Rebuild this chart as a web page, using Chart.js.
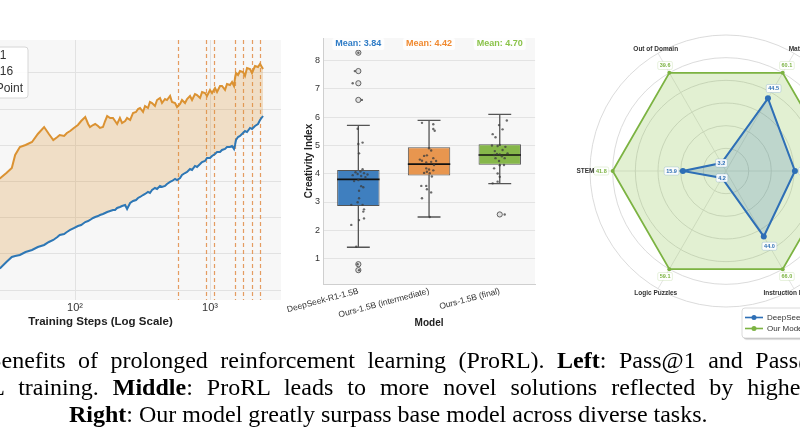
<!DOCTYPE html>
<html>
<head>
<meta charset="utf-8">
<script src="https://cdn.jsdelivr.net/npm/chart.js@4.4.1/dist/chart.umd.min.js"></script>
<style>
  html, body { margin: 0; padding: 0; background: #fff; width: 800px; height: 445px; overflow: hidden; position: relative; }
  canvas { position: absolute; }
  .cap { position: absolute; white-space: nowrap; font-family: "Liberation Serif", "Times New Roman", serif; font-size: 24px; line-height: 1; color: #000; }
</style>
</head>
<body>
<canvas id="steps" width="380" height="330" style="left:-80px;top:0"></canvas>
<canvas id="creat" width="270" height="330" style="left:270px;top:0"></canvas>
<canvas id="radar" width="332" height="330" style="left:560px;top:20px"></canvas>

<div class="cap" id="cap1" style="top:348px;word-spacing:6.5px"><span id="pre1"><b>Figure 1:</b> B</span>enefits of prolonged reinforcement learning (ProRL). <b>Left</b>: Pass@1 and Pass@16 scales with</div>
<div class="cap" id="cap2" style="top:375px;word-spacing:8px"><span id="pre2">ProRL </span>training. <b>Middle</b>: ProRL leads to more novel solutions reflected by higher</div>
<div class="cap" id="cap3" style="top:402px;left:69px"><b>Right</b>: Our model greatly surpass base model across diverse tasks.</div>

<script>
const FONT = '"Liberation Sans", Arial, sans-serif';
Chart.defaults.font.family = FONT;
Chart.defaults.color = '#333';

// ---------- left panel: Pass@k vs training steps ----------
const steps = [26, 28, 31, 34, 36, 39, 43, 48, 53, 59, 64,
  69, 74, 77, 83, 87, 92, 98, 105, 111, 119,
  125, 129, 136, 141, 148, 153, 161, 167, 173, 182,
  191, 198, 205, 215, 223, 235, 243, 256, 269, 283,
  293, 303, 319, 330, 347, 359, 372, 391, 405, 426,
  441, 464, 480, 506, 523, 551, 570, 600, 620, 653,
  676, 711, 736, 774, 801, 844, 873, 918, 950, 1000,
  1035, 1089, 1127, 1186, 1227, 1292, 1336, 1406, 1456, 1506,
  1532, 1558, 1613, 1668, 1756, 1817, 1880, 1979, 2047, 2154,
  2268, 2347, 2470];
const pass1 = [12.76, 13.04, 13.87, 14.56, 14.70, 14.84, 15.25, 15.53, 15.94, 16.22, 16.63,
  16.91, 17.32, 17.60, 17.74, 18.01, 18.29, 18.56, 18.84, 18.98, 19.39,
  19.53, 19.67, 19.95, 20.08, 20.22, 20.36, 20.50, 20.64, 20.77, 20.91,
  21.05, 21.05, 21.33, 21.47, 21.60, 21.74, 21.19, 22.02, 22.29, 22.43,
  22.71, 22.85, 23.12, 23.26, 23.54, 23.40, 23.81, 24.09, 23.95, 24.37,
  24.23, 24.37, 24.64, 24.92, 25.06, 25.33, 25.19, 25.47, 25.89, 26.16,
  26.30, 26.71, 26.58, 27.13, 26.99, 27.40, 27.68, 27.82, 28.23, 28.23,
  28.51, 28.79, 29.06, 29.06, 29.34, 29.48, 29.75, 29.75, 29.89, 29.48,
  30.03, 30.72, 31.13, 31.27, 31.69, 31.96, 31.82, 32.38, 32.24, 32.65,
  32.93, 33.48, 34.03];
const pass16 = [25.06, 25.47, 26.16, 26.85, 28.65, 29.75, 30.03, 30.44, 31.55, 32.51, 31.55,
  30.72, 31.13, 31.41, 31.27, 31.69, 31.96, 32.38, 32.79, 33.34, 33.90,
  32.93, 32.51, 32.79, 32.93, 32.65, 32.38, 32.51, 33.34, 34.03, 33.76,
  33.76, 33.34, 32.93, 33.76, 33.07, 33.34, 33.76, 33.48, 34.45, 34.59,
  35.00, 35.14, 34.59, 35.42, 35.14, 35.97, 35.83, 35.42, 36.24, 36.52,
  35.83, 36.38, 36.24, 36.80, 35.97, 35.83, 35.28, 35.69, 36.24, 35.83,
  36.38, 36.80, 36.24, 37.07, 36.93, 36.52, 37.35, 37.21, 36.80, 37.63,
  37.21, 37.90, 37.35, 38.18, 38.18, 37.63, 38.45, 38.32, 38.73, 38.18,
  39.28, 39.97, 39.70, 40.25, 40.11, 39.56, 40.66, 40.53, 39.97, 40.94,
  40.80, 41.22, 40.53];
const resetSteps = [577, 933, 1077, 1538, 1766, 2037, 2361];
const stepSeries = ['Pass@1', 'Pass@16', 'Reset Point'];
const stepColors = ['#2e77b5', '#db9232', 'rgba(226,140,70,0.85)'];

// ---------- middle panel: creativity index ----------
const models = ['DeepSeek-R1-1.5B', 'Ours-1.5B (intermediate)', 'Ours-1.5B (final)'];
const q1 = [2.86, 3.94, 4.32];
const median = [3.80, 4.34, 4.66];
const q3 = [4.13, 4.94, 5.04];
const whiskLo = [1.40, 2.47, 3.65];
const whiskHi = [5.71, 5.89, 6.10];
const means = [3.84, 4.42, 4.70];
const outliers = [[8.28, 7.63, 7.20, 6.61, 0.80, 0.59], [], [2.56]];
// strip points: [jitter offset in category units, value]
const strip = [
  [[-0.01, 5.59], [0.06, 5.10], [0, 5.05], [0.01, 4.72], [0.06, 4.16], [-0.04, 4.05], [0.03, 4.08], [0.08, 4.02],
   [-0.01, 3.99], [0.13, 3.97], [0.04, 3.92], [-0.08, 3.95], [0.10, 3.88], [0, 3.78], [-0.06, 3.74], [0.04, 3.56],
   [0.07, 3.52], [0.01, 3.13], [-0.10, 2.90], [0.06, 2.90], [-0.01, 2.99], [0.08, 2.74], [0.07, 2.66], [0.01, 2.36],
   [0.08, 2.42], [-0.10, 2.19], [-0.03, 1.42], [0.01, 3.40], [-0.08, 7.20], [-0.05, 7.63], [0.05, 6.61], [0, 8.28],
   [-0.01, 0.80], [0.01, 0.59]],
  [[-0.10, 5.80], [0.06, 5.75], [0.08, 5.52], [0.06, 5.58], [0, 4.90], [0.03, 4.82], [-0.07, 4.63], [-0.03, 4.65],
   [0.06, 4.55], [-0.10, 4.46], [-0.04, 4.40], [0.03, 4.42], [0.07, 4.31], [-0.04, 4.19], [0, 4.15], [0.06, 4.12],
   [-0.03, 4.07], [-0.07, 4.03], [0.01, 4.02], [-0.11, 3.57], [-0.04, 3.57], [-0.03, 3.45], [0.03, 3.34], [-0.10, 3.13],
   [0.01, 2.47], [-0.13, 4.50], [0.10, 4.45], [0.04, 3.90]],
  [[0.10, 5.88], [-0.01, 5.72], [0.04, 5.57], [-0.10, 5.40], [-0.06, 5.29], [0, 5.02], [-0.03, 4.98], [0.04, 4.84],
   [-0.04, 4.70], [0, 4.68], [-0.08, 4.66], [0.03, 4.62], [-0.06, 4.55], [0.07, 4.55], [-0.01, 4.45], [0.06, 4.31],
   [0, 4.30], [-0.08, 4.19], [-0.03, 4.01], [0, 3.89], [-0.03, 3.72], [-0.10, 3.66], [0.07, 2.56], [-0.11, 5.00],
   [0.11, 4.72], [0.08, 4.95], [-0.07, 4.80]]
];
const boxColors = ['#3f7fbf', '#e8964f', '#86b74a'];
const meanColors = ['#2f7cc6', '#f0892f', '#8bc34a'];

// ---------- right panel: radar ----------
const domains = ['Code', 'Instruction Following', 'Logic Puzzles', 'STEM', 'Out of Domain', 'Math'];
const baseScores = [28.4, 44.0, 4.2, 15.9, 3.2, 44.5];
const ourScores = [46.7, 66.0, 59.1, 41.8, 39.6, 60.1];
const radarNames = ['DeepSeek-R1-1.5B', 'Our Model'];
const radarColors = ['#2e6fb6', '#7cb342'];

// ---------- shared plugins ----------
const plotBg = {
  id: 'plotBg',
  beforeDraw(chart) {
    const a = chart.chartArea, ctx = chart.ctx;
    ctx.save();
    ctx.fillStyle = '#f7f7f7';
    ctx.fillRect(a.left, a.top, a.width, a.height);
    ctx.restore();
  }
};

function roundRect(ctx, x, y, w, h, r) {
  ctx.beginPath();
  ctx.moveTo(x + r, y);
  ctx.arcTo(x + w, y, x + w, y + h, r);
  ctx.arcTo(x + w, y + h, x, y + h, r);
  ctx.arcTo(x, y + h, x, y, r);
  ctx.arcTo(x, y, x + w, y, r);
  ctx.closePath();
}

// ---------- left chart ----------
const resetLines = {
  id: 'resetLines',
  beforeDatasetsDraw(chart) {
    const {ctx, chartArea: a, scales: {x}} = chart;
    ctx.save();
    ctx.strokeStyle = stepColors[2];
    ctx.lineWidth = 1.2;
    ctx.setLineDash([4, 3]);
    resetSteps.forEach(s => {
      const px = Math.round(x.getPixelForValue(s)) + 0.5;
      ctx.beginPath();
      ctx.moveTo(px, a.top);
      ctx.lineTo(px, a.bottom);
      ctx.stroke();
    });
    ctx.restore();
  }
};

const stepsLegend = {
  id: 'stepsLegend',
  afterDraw(chart) {
    const {ctx, chartArea: a} = chart;
    const x0 = a.left + 5, y0 = a.top + 7;
    ctx.save();
    roundRect(ctx, x0, y0, 103, 51, 3);
    ctx.fillStyle = 'rgba(255,255,255,0.9)';
    ctx.fill();
    ctx.strokeStyle = '#d6d6d6';
    ctx.lineWidth = 1;
    ctx.stroke();
    ctx.font = '12px ' + FONT;
    ctx.textBaseline = 'middle';
    stepSeries.forEach((name, i) => {
      const cy = y0 + 8.3 + i * 16.7;
      ctx.strokeStyle = stepColors[i];
      ctx.lineWidth = 2;
      ctx.setLineDash(i === 2 ? [4, 3] : []);
      ctx.beginPath();
      ctx.moveTo(x0 + 8, cy);
      ctx.lineTo(x0 + 30, cy);
      ctx.stroke();
      ctx.fillStyle = '#333';
      ctx.fillText(name, x0 + 36, cy);
    });
    ctx.restore();
  }
};

const sup = {1: '\u00b9', 2: '\u00b2', 3: '\u00b3'};

new Chart(document.getElementById('steps'), {
  type: 'line',
  data: {
    datasets: [
      {
        label: stepSeries[0],
        data: steps.map((s, i) => ({x: s, y: pass1[i]})),
        borderColor: stepColors[0],
        borderWidth: 2,
        pointRadius: 0,
        fill: false,
        tension: 0
      },
      {
        label: stepSeries[1],
        data: steps.map((s, i) => ({x: s, y: pass16[i]})),
        borderColor: stepColors[1],
        backgroundColor: 'rgba(221,149,51,0.25)',
        borderWidth: 2,
        pointRadius: 0,
        fill: {target: 0},
        tension: 0
      }
    ]
  },
  plugins: [plotBg, resetLines, stepsLegend],
  options: {
    responsive: false,
    animation: false,
    layout: {padding: {top: 40, right: 19, left: 0, bottom: 0}},
    plugins: {legend: {display: false}, tooltip: {enabled: false}},
    scales: {
      x: {
        type: 'logarithmic',
        min: 7.1,
        max: 3357,
        afterBuildTicks: axis => { axis.ticks = [10, 100, 1000].map(v => ({value: v})); },
        afterFit: axis => { axis.height = 30; },
        ticks: {
          callback: v => '10' + sup[Math.round(Math.log10(v))],
          font: {size: 11},
          color: '#333',
          padding: 1,
          maxRotation: 0,
          autoSkip: false
        },
        grid: {color: '#e2e2e2', drawTicks: false},
        border: {display: false},
        title: {
          display: true,
          text: 'Training Steps (Log Scale)',
          font: {size: 11.5, weight: 'bold'},
          color: '#222',
          padding: {top: 0, bottom: 1}
        }
      },
      y: {
        min: 8.62,
        max: 44.53,
        afterFit: axis => { axis.width = 0; },
        ticks: {display: false, stepSize: 5, includeBounds: false},
        grid: {color: '#e2e2e2', drawTicks: false},
        border: {display: false}
      }
    }
  }
});

// ---------- middle chart ----------
const boxParts = {
  id: 'boxParts',
  beforeDatasetsDraw(chart) {
    const {ctx, scales: {y}} = chart;
    const bars = chart.getDatasetMeta(0).data;
    ctx.save();
    ctx.strokeStyle = '#555';
    ctx.lineWidth = 1.3;
    bars.forEach((bar, i) => {
      const cap = bar.width * 0.27;
      const yl = y.getPixelForValue(whiskLo[i]);
      const yh = y.getPixelForValue(whiskHi[i]);
      ctx.beginPath();
      ctx.moveTo(bar.x, yl); ctx.lineTo(bar.x, yh);
      ctx.moveTo(bar.x - cap, yl); ctx.lineTo(bar.x + cap, yl);
      ctx.moveTo(bar.x - cap, yh); ctx.lineTo(bar.x + cap, yh);
      ctx.stroke();
    });
    ctx.restore();
  },
  afterDatasetDraw(chart, args) {
    if (args.index !== 0) return;
    const {ctx, scales: {y}} = chart;
    ctx.save();
    ctx.strokeStyle = '#111';
    ctx.lineWidth = 1.6;
    chart.getDatasetMeta(0).data.forEach((bar, i) => {
      const ym = y.getPixelForValue(median[i]);
      ctx.beginPath();
      ctx.moveTo(bar.x - bar.width / 2, ym);
      ctx.lineTo(bar.x + bar.width / 2, ym);
      ctx.stroke();
    });
    ctx.restore();
  }
};

const meanLabels = {
  id: 'meanLabels',
  afterDraw(chart) {
    const {ctx, chartArea: a, scales: {x}} = chart;
    ctx.save();
    ctx.font = 'bold 9px ' + FONT;
    ctx.textAlign = 'center';
    ctx.textBaseline = 'middle';
    means.forEach((m, i) => {
      const cx = x.getPixelForValue(i);
      const cy = a.top + 6;
      const t = 'Mean: ' + m.toFixed(2);
      const w = ctx.measureText(t).width + 6;
      roundRect(ctx, cx - w / 2, cy - 6, w, 12, 2);
      ctx.fillStyle = 'rgba(255,255,255,0.85)';
      ctx.fill();
      ctx.fillStyle = meanColors[i];
      ctx.fillText(t, cx, cy);
    });
    ctx.restore();
  }
};

const outlierPts = [];
outliers.forEach((list, i) => list.forEach(v => outlierPts.push({x: i, y: v})));
const stripPts = [];
strip.forEach((list, i) => list.forEach(([dx, v]) => stripPts.push({x: i + dx, y: v})));

new Chart(document.getElementById('creat'), {
  type: 'bar',
  data: {
    labels: models,
    datasets: [
      {
        label: 'IQR',
        data: models.map((m, i) => [q1[i], q3[i]]),
        backgroundColor: boxColors,
        borderColor: '#555',
        borderWidth: 1,
        borderSkipped: false,
        categoryPercentage: 1,
        barPercentage: 0.6,
        grouped: false,
        order: 3
      },
      {
        type: 'scatter',
        label: 'outliers',
        xAxisID: 'xj',
        data: outlierPts,
        pointRadius: 2.6,
        pointBackgroundColor: 'rgba(215,215,215,0.7)',
        pointBorderColor: '#555',
        pointBorderWidth: 0.9,
        order: 2
      },
      {
        type: 'scatter',
        label: 'samples',
        xAxisID: 'xj',
        data: stripPts,
        pointRadius: 1.2,
        pointBackgroundColor: 'rgba(60,60,60,0.75)',
        pointBorderWidth: 0,
        order: 1
      }
    ]
  },
  plugins: [plotBg, boxParts, meanLabels],
  options: {
    responsive: false,
    animation: false,
    layout: {padding: {top: 38, right: 4, left: 33, bottom: 1}},
    plugins: {legend: {display: false}, tooltip: {enabled: false}},
    scales: {
      x: {
        type: 'category',
        afterFit: axis => { axis.height = 45; },
        ticks: {font: {size: 8.5}, color: '#333', minRotation: 15, maxRotation: 15, padding: 2, autoSkip: false},
        grid: {display: false, drawTicks: false},
        border: {display: true, color: '#cfcfcf'},
        title: {display: true, text: 'Model', font: {size: 10, weight: 'bold'}, color: '#222', padding: {top: 0, bottom: 0}}
      },
      xj: {type: 'linear', display: false, offset: false, min: -0.5, max: 2.5},
      y: {
        min: 0.1,
        max: 8.8,
        afterFit: axis => { axis.width = 20; },
        ticks: {stepSize: 1, includeBounds: false, font: {size: 9}, color: '#333', padding: 3},
        grid: {color: '#e3e3e3', drawTicks: false},
        border: {display: true, color: '#cfcfcf'},
        title: {display: true, text: 'Creativity Index', font: {size: 10, weight: 'bold'}, color: '#222', padding: {top: 0, bottom: 0}}
      }
    }
  }
});

// ---------- right chart ----------
function drawTag(ctx, text, x, y, color, edge) {
  ctx.font = 'bold 5.5px ' + FONT;
  const w = ctx.measureText(text).width + 4;
  roundRect(ctx, x - w / 2, y - 4, w, 8, 1.5);
  ctx.fillStyle = 'rgba(255,255,255,0.9)';
  ctx.fill();
  ctx.strokeStyle = edge;
  ctx.lineWidth = 0.5;
  ctx.stroke();
  ctx.fillStyle = color;
  ctx.fillText(text, x, y + 0.3);
}

const radarLabels = {
  id: 'radarLabels',
  afterDatasetsDraw(chart) {
    const {ctx} = chart;
    const r = chart.scales.r;
    const base = chart.data.datasets[0].data;
    ctx.save();
    ctx.textAlign = 'center';
    ctx.textBaseline = 'middle';
    domains.forEach((d, i) => {
      const p = r.getPointPositionForValue(i, 1.24);
      ctx.font = 'bold 6.5px ' + FONT;
      ctx.fillStyle = '#333';
      ctx.fillText(d, p.x, p.y);

      const horiz = Math.abs(Math.cos(p.angle));
      const g = r.getPointPositionForValue(i, 1.05 + 0.05 * horiz);
      drawTag(ctx, ourScores[i].toFixed(1), g.x, g.y, radarColors[1], 'rgba(124,179,66,0.35)');

      const bv = base[i];
      const b = r.getPointPositionForValue(i, bv < 0.2 ? bv : bv + 0.1);
      drawTag(ctx, baseScores[i].toFixed(1), b.x, b.y, radarColors[0], 'rgba(46,111,182,0.4)');
    });
    ctx.restore();
  }
};

const radarLegend = {
  id: 'radarLegend',
  afterDraw(chart) {
    const {ctx} = chart;
    const x0 = 182, y0 = 288;
    ctx.save();
    ctx.shadowColor = 'rgba(0,0,0,0.25)';
    ctx.shadowOffsetX = 1.5;
    ctx.shadowOffsetY = 1.5;
    ctx.shadowBlur = 1;
    roundRect(ctx, x0, y0, 90, 30, 3);
    ctx.fillStyle = '#fff';
    ctx.fill();
    ctx.shadowColor = 'transparent';
    ctx.strokeStyle = '#d0d0d0';
    ctx.lineWidth = 0.8;
    ctx.stroke();
    ctx.font = '8px ' + FONT;
    ctx.textBaseline = 'middle';
    radarNames.forEach((n, i) => {
      const cy = y0 + 9.5 + i * 11;
      ctx.strokeStyle = radarColors[i];
      ctx.lineWidth = 1.6;
      ctx.beginPath();
      ctx.moveTo(x0 + 3, cy);
      ctx.lineTo(x0 + 21, cy);
      ctx.stroke();
      ctx.fillStyle = radarColors[i];
      ctx.beginPath();
      ctx.arc(x0 + 12, cy, 2.5, 0, Math.PI * 2);
      ctx.fill();
      ctx.fillStyle = '#333';
      ctx.fillText(n, x0 + 25, cy);
    });
    ctx.restore();
  }
};

new Chart(document.getElementById('radar'), {
  type: 'radar',
  data: {
    labels: domains,
    datasets: [
      {
        label: radarNames[0],
        data: baseScores.map((v, i) => v / ourScores[i]),
        borderColor: radarColors[0],
        backgroundColor: 'rgba(46,111,182,0.2)',
        borderWidth: 2,
        pointRadius: 3,
        pointBackgroundColor: radarColors[0],
        pointBorderWidth: 0,
        fill: true
      },
      {
        label: radarNames[1],
        data: ourScores.map(() => 1),
        borderColor: radarColors[1],
        backgroundColor: 'rgba(141,194,74,0.25)',
        borderWidth: 1.8,
        pointRadius: 2,
        pointBackgroundColor: radarColors[1],
        pointBorderWidth: 0,
        fill: true
      }
    ]
  },
  plugins: [radarLabels, radarLegend],
  options: {
    responsive: false,
    animation: false,
    layout: {padding: {left: 30, right: 30, top: 15, bottom: 43}},
    plugins: {legend: {display: false}, tooltip: {enabled: false}},
    scales: {
      r: {
        min: 0,
        max: 1.2,
        startAngle: 90,
        ticks: {display: false, stepSize: 0.2},
        grid: {circular: true, color: '#d2d2d2', lineWidth: 0.8},
        angleLines: {color: '#dcdcdc', lineWidth: 0.8},
        pointLabels: {display: false}
      }
    }
  }
});

// ---------- caption placement (figure is cropped on the left) ----------
const cap1 = document.getElementById('cap1');
cap1.style.left = (2 - document.getElementById('pre1').offsetWidth) + 'px';
const cap2 = document.getElementById('cap2');
cap2.style.left = (18 - document.getElementById('pre2').offsetWidth) + 'px';
</script>
</body>
</html>
